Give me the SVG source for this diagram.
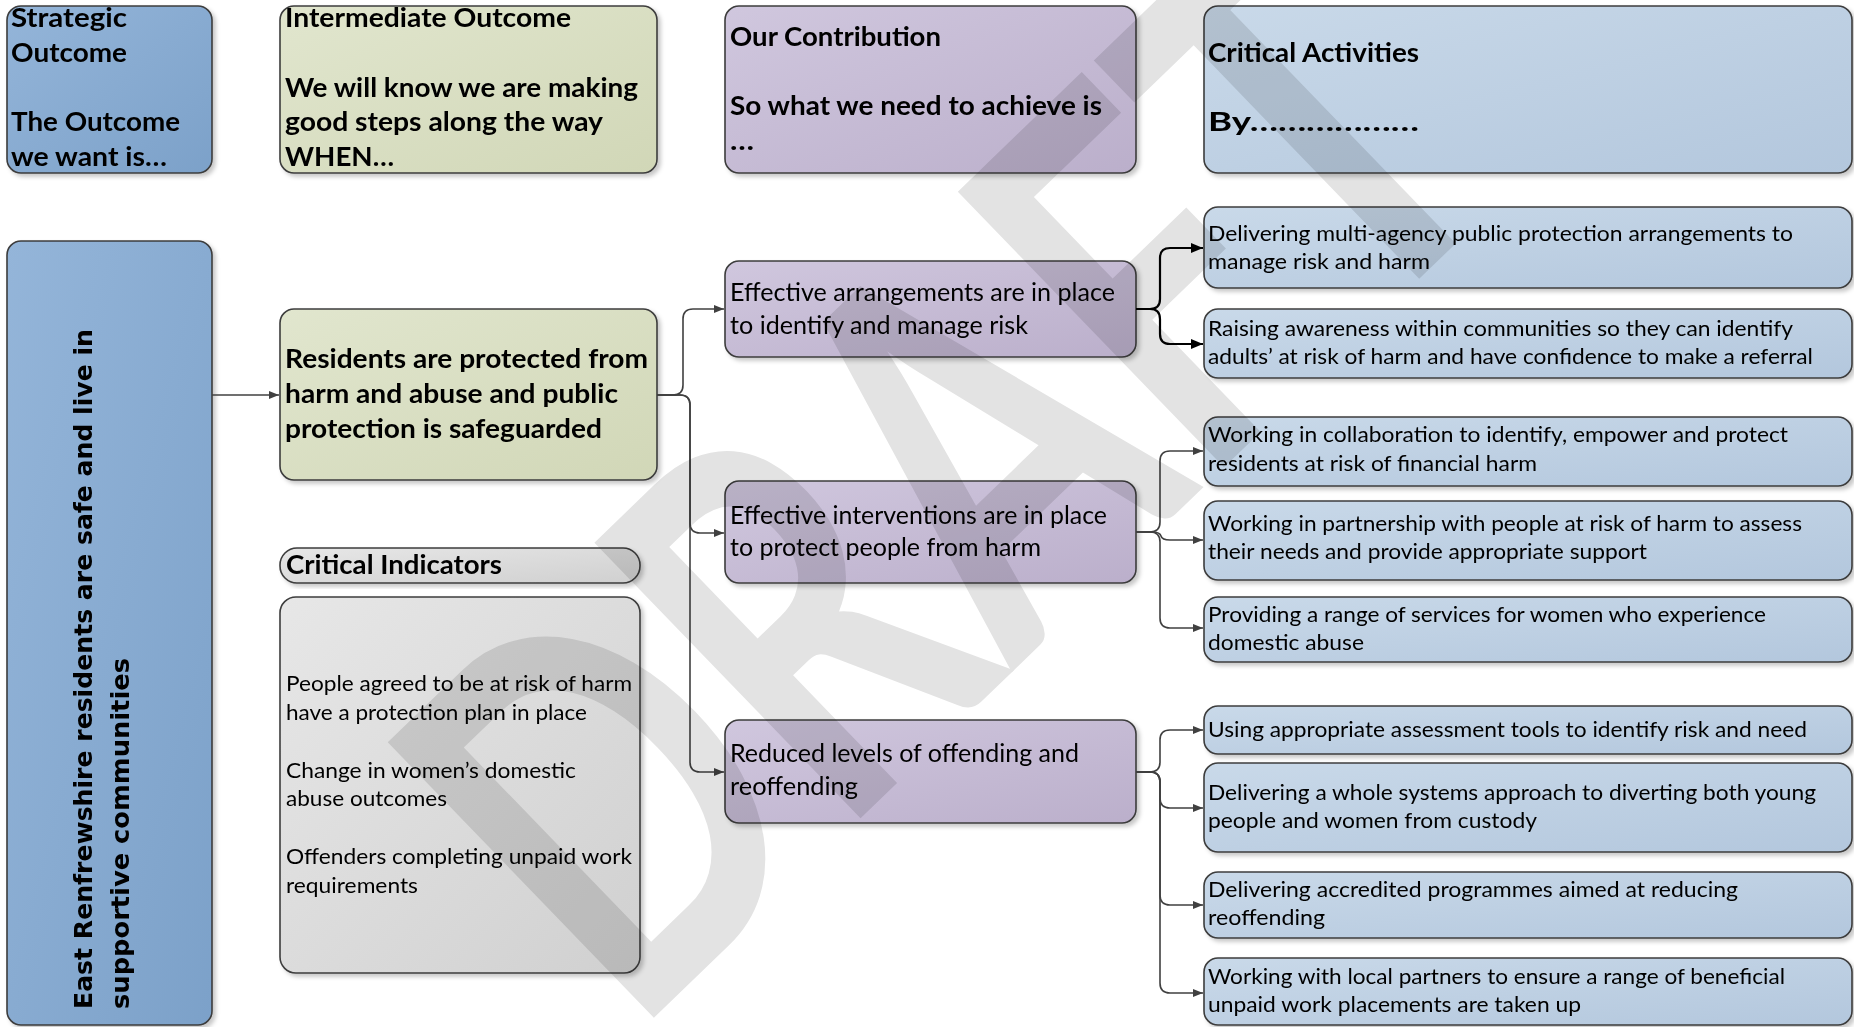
<svg xmlns="http://www.w3.org/2000/svg" width="1854" height="1027" viewBox="0 0 1854 1027">
  <defs>
    <linearGradient id="gStrat" x1="0" y1="0" x2="1" y2="1">
      <stop offset="0" stop-color="#94b5d9"/>
      <stop offset="1" stop-color="#7ca1c9"/>
    </linearGradient>
    <linearGradient id="gGreen" x1="0" y1="0" x2="1" y2="1">
      <stop offset="0" stop-color="#e1e6ce"/>
      <stop offset="1" stop-color="#d1d7b7"/>
    </linearGradient>
    <linearGradient id="gPurple" x1="0" y1="0" x2="1" y2="1">
      <stop offset="0" stop-color="#d0c7de"/>
      <stop offset="1" stop-color="#bbafcb"/>
    </linearGradient>
    <linearGradient id="gAct" x1="0" y1="0" x2="1" y2="1">
      <stop offset="0" stop-color="#c9d9e9"/>
      <stop offset="1" stop-color="#b3c7dd"/>
    </linearGradient>
    <linearGradient id="gGrey" x1="0" y1="0" x2="1" y2="1">
      <stop offset="0" stop-color="#e7e7e7"/>
      <stop offset="1" stop-color="#d0d0d0"/>
    </linearGradient>
    <filter id="sh" x="-5%" y="-5%" width="115%" height="120%">
      <feDropShadow dx="3" dy="3" stdDeviation="2" flood-color="#000" flood-opacity="0.22"/>
    </filter>
    <marker id="arr" viewBox="0 0 10 8" refX="10" refY="4" markerWidth="10" markerHeight="8" markerUnits="userSpaceOnUse" orient="auto">
      <path d="M0,0 L10,4 L0,8 z" fill="#404040"/>
    </marker>
    <marker id="arrB" viewBox="0 0 12 10" refX="12" refY="5" markerWidth="12" markerHeight="10" markerUnits="userSpaceOnUse" orient="auto">
      <path d="M0,0 L12,5 L0,10 z" fill="#000"/>
    </marker>
  </defs>
  <style>
    .box { stroke:#3c3c3c; stroke-width:1.6; filter:url(#sh); }
    .strat { fill:url(#gStrat); }
    .green { fill:url(#gGreen); }
    .purple { fill:url(#gPurple); }
    .act { fill:url(#gAct); }
    .grey { fill:url(#gGrey); }
    text { fill:#000; }
    .hd { font-family:Lato, "Liberation Sans", sans-serif; font-weight:700; font-size:26px; }
    .pl { font-family:Lato, "Liberation Sans", sans-serif; font-size:25px; }
    .ac { font-family:Lato, "Liberation Sans", sans-serif; font-size:21.5px; }
    .ind { font-family:Lato, "Liberation Sans", sans-serif; font-size:22px; }
    .vert { font-family:"DejaVu Sans", Verdana, sans-serif; font-weight:700; font-size:25.5px; }
    .cn { fill:none; stroke:#404040; stroke-width:1.6; marker-end:url(#arr); }
    .cnb { fill:none; stroke:#000; stroke-width:2.2; marker-end:url(#arrB); }
    .wm { font-family:Lato, "Liberation Sans", sans-serif; font-weight:700; font-size:530px; fill:#e3e3e3; mix-blend-mode:multiply; }
  </style>

  <!-- column headers -->
  <g id="hdr-strategic">
    <rect class="box strat" x="7" y="6" width="205" height="167" rx="14"/>
    <text class="hd" x="11" y="27" textLength="116" lengthAdjust="spacingAndGlyphs">Strategic</text>
    <text class="hd" x="11" y="62" textLength="116" lengthAdjust="spacingAndGlyphs">Outcome</text>
    <text class="hd" x="11" y="131" textLength="169" lengthAdjust="spacingAndGlyphs">The Outcome</text>
    <text class="hd" x="11" y="166" textLength="156" lengthAdjust="spacingAndGlyphs">we want is…</text>
  </g>
  <g id="hdr-intermediate">
    <rect class="box green" x="280" y="6" width="377" height="167" rx="14"/>
    <text class="hd" x="285" y="27" textLength="286" lengthAdjust="spacingAndGlyphs">Intermediate Outcome</text>
    <text class="hd" x="285" y="97" textLength="353" lengthAdjust="spacingAndGlyphs">We will know we are making</text>
    <text class="hd" x="285" y="131" textLength="318" lengthAdjust="spacingAndGlyphs">good steps along the way</text>
    <text class="hd" x="285" y="166" textLength="109" lengthAdjust="spacingAndGlyphs">WHEN…</text>
  </g>
  <g id="hdr-contribution">
    <rect class="box purple" x="725" y="6" width="411" height="167" rx="14"/>
    <text class="hd" x="730" y="46" textLength="211" lengthAdjust="spacingAndGlyphs">Our Contribution</text>
    <text class="hd" x="730" y="115" textLength="372" lengthAdjust="spacingAndGlyphs">So what we need to achieve is</text>
    <text class="hd" x="730" y="150" textLength="24" lengthAdjust="spacingAndGlyphs">…</text>
  </g>
  <g id="hdr-activities">
    <rect class="box act" x="1204" y="6" width="648" height="167" rx="14"/>
    <text class="hd" x="1208" y="62" textLength="211" lengthAdjust="spacingAndGlyphs">Critical Activities</text>
    <text class="hd" x="1208" y="131" textLength="211" lengthAdjust="spacingAndGlyphs">By………………</text>
  </g>

  <!-- strategic outcome -->
  <g id="strategic-outcome">
    <rect class="box strat" x="7" y="241" width="205" height="784" rx="14"/>
    <text class="vert" transform="translate(92,1009) rotate(-90)" textLength="680" lengthAdjust="spacingAndGlyphs">East Renfrewshire residents are safe and live in</text>
    <text class="vert" transform="translate(129,1009) rotate(-90)" textLength="351" lengthAdjust="spacingAndGlyphs">supportive communities</text>
  </g>

  <!-- intermediate outcome -->
  <g id="intermediate-outcome">
    <rect class="box green" x="280" y="309" width="377" height="171" rx="14"/>
    <text class="hd" x="285" y="368" textLength="363" lengthAdjust="spacingAndGlyphs">Residents are protected from</text>
    <text class="hd" x="285" y="403" textLength="333" lengthAdjust="spacingAndGlyphs">harm and abuse and public</text>
    <text class="hd" x="285" y="438" textLength="317" lengthAdjust="spacingAndGlyphs">protection is safeguarded</text>
  </g>

  <!-- critical indicators -->
  <g id="indicators-title">
    <rect class="box grey" x="280" y="548" width="360" height="35" rx="17"/>
    <text class="hd" x="286" y="574" textLength="216" lengthAdjust="spacingAndGlyphs">Critical Indicators</text>
  </g>
  <g id="indicators">
    <rect class="box grey" x="280" y="597" width="360" height="376" rx="16"/>
    <text class="ind" x="286" y="691" textLength="346" lengthAdjust="spacingAndGlyphs">People agreed to be at risk of harm</text>
    <text class="ind" x="286" y="720" textLength="301" lengthAdjust="spacingAndGlyphs">have a protection plan in place</text>
    <text class="ind" x="286" y="778" textLength="290" lengthAdjust="spacingAndGlyphs">Change in women’s domestic</text>
    <text class="ind" x="286" y="806" textLength="161" lengthAdjust="spacingAndGlyphs">abuse outcomes</text>
    <text class="ind" x="286" y="864" textLength="346" lengthAdjust="spacingAndGlyphs">Offenders completing unpaid work</text>
    <text class="ind" x="286" y="893" textLength="132" lengthAdjust="spacingAndGlyphs">requirements</text>
  </g>

  <!-- contributions -->
  <g id="c-arrangements">
    <rect class="box purple" x="725" y="261" width="411" height="96" rx="14"/>
    <text class="pl" x="730" y="301" textLength="385" lengthAdjust="spacingAndGlyphs">Effective arrangements are in place</text>
    <text class="pl" x="730" y="334" textLength="298" lengthAdjust="spacingAndGlyphs">to identify and manage risk</text>
  </g>
  <g id="c-interventions">
    <rect class="box purple" x="725" y="481" width="411" height="102" rx="14"/>
    <text class="pl" x="730" y="524" textLength="377" lengthAdjust="spacingAndGlyphs">Effective interventions are in place</text>
    <text class="pl" x="730" y="556" textLength="311" lengthAdjust="spacingAndGlyphs">to protect people from harm</text>
  </g>
  <g id="c-offending">
    <rect class="box purple" x="725" y="720" width="411" height="103" rx="14"/>
    <text class="pl" x="730" y="762" textLength="349" lengthAdjust="spacingAndGlyphs">Reduced levels of offending and</text>
    <text class="pl" x="730" y="795" textLength="128" lengthAdjust="spacingAndGlyphs">reoffending</text>
  </g>

  <!-- critical activities -->
  <g id="a1">
    <rect class="box act" x="1204" y="207" width="648" height="81" rx="14"/>
    <text class="ac" x="1208" y="241" textLength="585" lengthAdjust="spacingAndGlyphs">Delivering multi-agency public protection arrangements to</text>
    <text class="ac" x="1208" y="269" textLength="222" lengthAdjust="spacingAndGlyphs">manage risk and harm</text>
  </g>
  <g id="a2">
    <rect class="box act" x="1204" y="309" width="648" height="69" rx="14"/>
    <text class="ac" x="1208" y="336" textLength="585" lengthAdjust="spacingAndGlyphs">Raising awareness within communities so they can identify</text>
    <text class="ac" x="1208" y="364" textLength="605" lengthAdjust="spacingAndGlyphs">adults’ at risk of harm and have confidence to make a referral</text>
  </g>
  <g id="a3">
    <rect class="box act" x="1204" y="417" width="648" height="69" rx="14"/>
    <text class="ac" x="1208" y="442" textLength="580" lengthAdjust="spacingAndGlyphs">Working in collaboration to identify, empower and protect</text>
    <text class="ac" x="1208" y="471" textLength="329" lengthAdjust="spacingAndGlyphs">residents at risk of financial harm</text>
  </g>
  <g id="a4">
    <rect class="box act" x="1204" y="501" width="648" height="79" rx="14"/>
    <text class="ac" x="1208" y="531" textLength="594" lengthAdjust="spacingAndGlyphs">Working in partnership with people at risk of harm to assess</text>
    <text class="ac" x="1208" y="559" textLength="439" lengthAdjust="spacingAndGlyphs">their needs and provide appropriate support</text>
  </g>
  <g id="a5">
    <rect class="box act" x="1204" y="597" width="648" height="65" rx="14"/>
    <text class="ac" x="1208" y="622" textLength="558" lengthAdjust="spacingAndGlyphs">Providing a range of services for women who experience</text>
    <text class="ac" x="1208" y="650" textLength="156" lengthAdjust="spacingAndGlyphs">domestic abuse</text>
  </g>
  <g id="a6">
    <rect class="box act" x="1204" y="706" width="648" height="48" rx="14"/>
    <text class="ac" x="1208" y="737" textLength="599" lengthAdjust="spacingAndGlyphs">Using appropriate assessment tools to identify risk and need</text>
  </g>
  <g id="a7">
    <rect class="box act" x="1204" y="763" width="648" height="89" rx="14"/>
    <text class="ac" x="1208" y="800" textLength="608" lengthAdjust="spacingAndGlyphs">Delivering a whole systems approach to diverting both young</text>
    <text class="ac" x="1208" y="828" textLength="329" lengthAdjust="spacingAndGlyphs">people and women from custody</text>
  </g>
  <g id="a8">
    <rect class="box act" x="1204" y="872" width="648" height="66" rx="14"/>
    <text class="ac" x="1208" y="897" textLength="530" lengthAdjust="spacingAndGlyphs">Delivering accredited programmes aimed at reducing</text>
    <text class="ac" x="1208" y="925" textLength="117" lengthAdjust="spacingAndGlyphs">reoffending</text>
  </g>
  <g id="a9">
    <rect class="box act" x="1204" y="958" width="648" height="67" rx="14"/>
    <text class="ac" x="1208" y="984" textLength="577" lengthAdjust="spacingAndGlyphs">Working with local partners to ensure a range of beneficial</text>
    <text class="ac" x="1208" y="1012" textLength="373" lengthAdjust="spacingAndGlyphs">unpaid work placements are taken up</text>
  </g>

  <!-- connectors -->
  <g id="connectors">
    <path class="cn" d="M212,395 H279"/>
    <path class="cn" d="M657,395 H673 Q683,395 683,385 V319 Q683,309 693,309 H724"/>
    <path class="cn" d="M657,395 H680 Q690,395 690,405 V523 Q690,533 700,533 H724"/>
    <path class="cn" d="M657,395 H680 Q690,395 690,405 V762 Q690,772 700,772 H724"/>

    <path class="cnb" d="M1136,309 H1150 Q1160,309 1160,299 V258 Q1160,248 1170,248 H1203"/>
    <path class="cnb" d="M1136,309 H1150 Q1160,309 1160,319 V334 Q1160,344 1170,344 H1203"/>

    <path class="cn" d="M1136,532 H1150 Q1160,532 1160,522 V461 Q1160,451 1170,451 H1203"/>
    <path class="cn" d="M1136,532 H1152 Q1160,532 1161,536 Q1162,540 1170,540 H1203"/>
    <path class="cn" d="M1136,532 H1150 Q1160,532 1160,542 V618 Q1160,628 1170,628 H1203"/>

    <path class="cn" d="M1136,772 H1150 Q1160,772 1160,762 V740 Q1160,730 1170,730 H1203"/>
    <path class="cn" d="M1136,772 H1150 Q1160,772 1160,782 V798 Q1160,808 1170,808 H1203"/>
    <path class="cn" d="M1136,772 H1150 Q1160,772 1160,782 V895 Q1160,905 1170,905 H1203"/>
    <path class="cn" d="M1136,772 H1150 Q1160,772 1160,782 V983 Q1160,993 1170,993 H1203"/>
  </g>

  <!-- watermark -->
  <text class="wm" transform="translate(632,1039) rotate(-44)" x="0" y="0" textLength="1233" lengthAdjust="spacingAndGlyphs">DRAFT</text>
</svg>
